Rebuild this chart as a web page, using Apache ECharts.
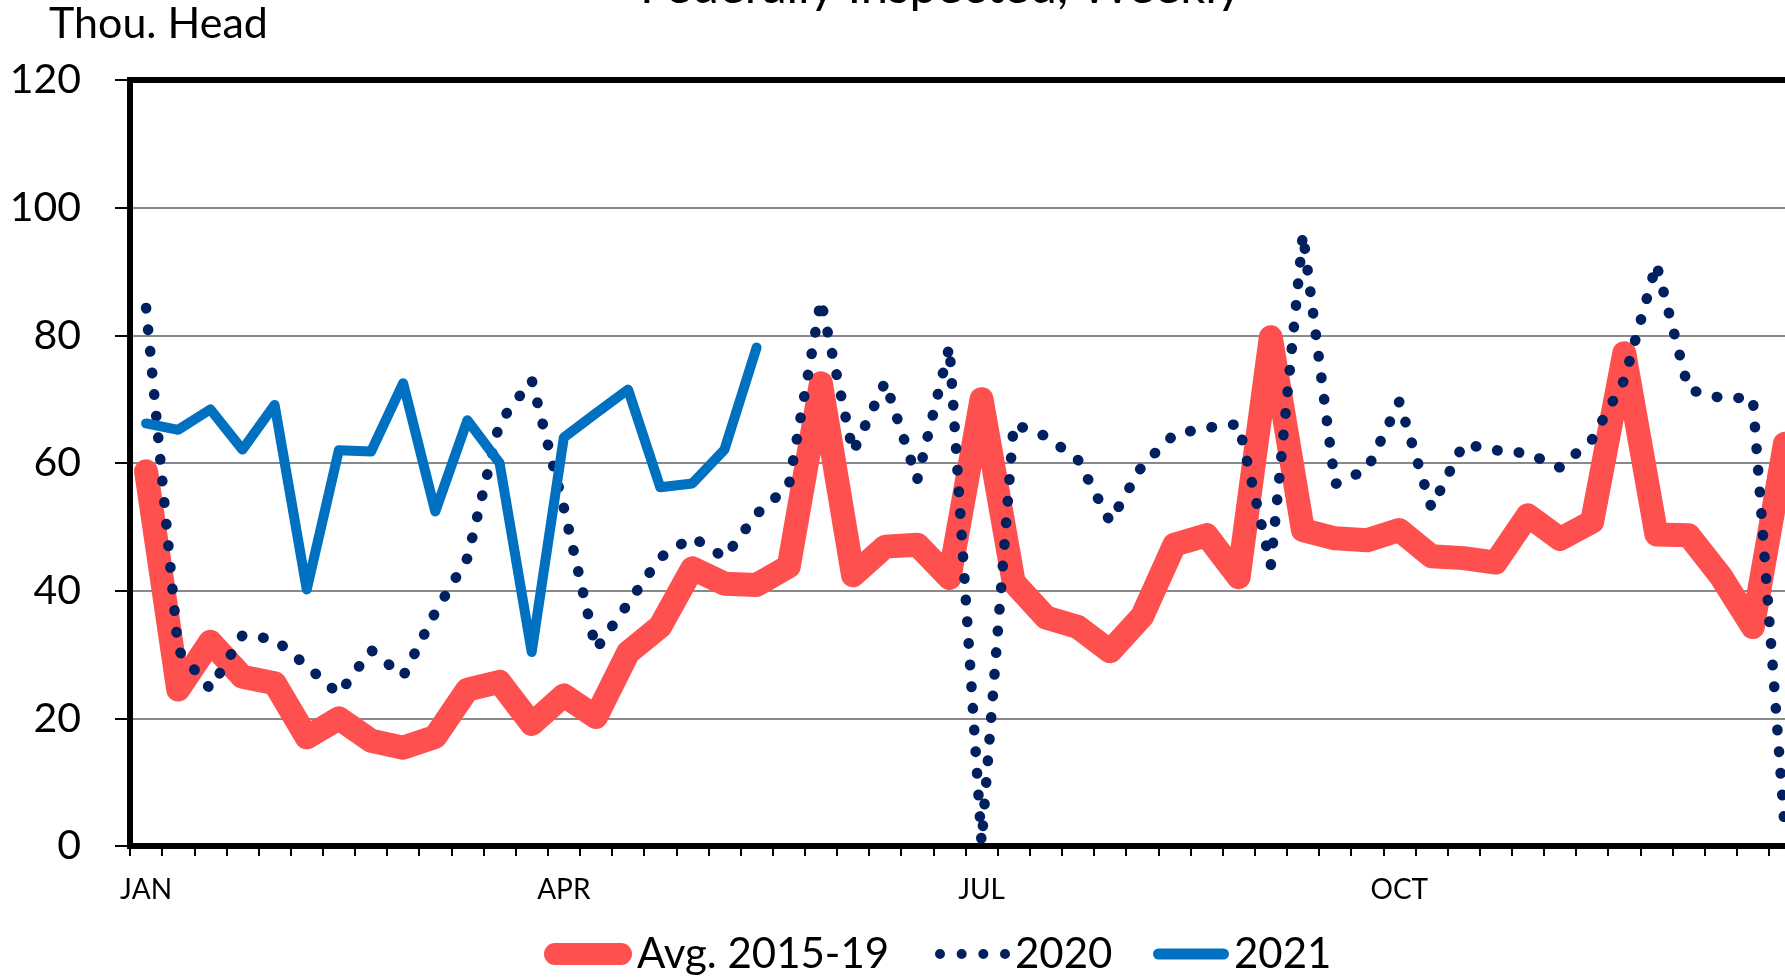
<!DOCTYPE html>
<html>
<head>
<meta charset="utf-8">
<script src="https://cdn.jsdelivr.net/npm/echarts@6.0.0/dist/echarts.min.js"></script>
<style>
  html, body { margin: 0; padding: 0; background: #fff; }
  #chart { width: 1785px; height: 978px; }
</style>
</head>
<body>
<div id="chart"></div>
<script>
// ---- data ----
const titleText = 'Federally Inspected, Weekly';
const unitText = 'Thou. Head';
const seriesNames = ['Avg. 2015-19', '2020', '2021'];

const weeks = [1, 2, 3, 4, 5, 6, 7, 8, 9, 10, 11, 12, 13, 14, 15, 16, 17, 18, 19, 20,
  21, 22, 23, 24, 25, 26, 27, 28, 29, 30, 31, 32, 33, 34, 35, 36, 37, 38, 39, 40,
  41, 42, 43, 44, 45, 46, 47, 48, 49, 50, 51, 52];

const monthLabels = ['JAN', 'APR', 'JUL', 'OCT'];
const monthWeeks = [1, 14, 27, 40];

const yTicks = [0, 20, 40, 60, 80, 100, 120];

const avg1519 = [58.7, 24.5, 32, 26.5, 25.5, 17, 20, 16.5, 15.4, 17.1,
  24.5, 25.7, 19.1, 23.6, 20.2, 30.3, 34.4, 43.5, 41.1, 40.9,
  43.8, 72.5, 42.4, 46.9, 47.2, 42, 70, 41.3, 35.8, 34.3,
  30.5, 36, 47.2, 48.7, 42.1, 79.7, 49.5, 48.2, 47.9, 49.5,
  45.4, 45.1, 44.4, 51.8, 48.1, 50.8, 77.2, 48.8, 48.7, 42.3,
  34.3, 63];

const y2020 = [84.3, 30.7, 24.6, 33, 32.4, 28.2, 23.8, 30.7, 26.6, 36.6,
  45.1, 66.3, 73, 53, 30.8, 38, 45.2, 48.4, 45.2, 52,
  56.4, 85.5, 61.7, 72.7, 57.4, 78.3, 0.5, 66.1, 64.2, 60.5,
  50.8, 59.6, 64.5, 65.5, 66.1, 43.9, 95.9, 56.7, 59, 69.6,
  53, 63, 62, 61.5, 59.3, 63.7, 73, 91.2, 71.5, 70.2,
  70.2, 2.3];

const y2021 = [66.2, 65.2, 68.4, 62.1, 69.1, 40.2, 62, 61.8, 72.5, 52.4,
  66.7, 60, 30.4, 64, 67.8, 71.5, 56.2, 56.8, 62.1, 78.1];

// ---- styling ----
const RED = '#FF5050';
const NAVY = '#002060';
const BLUE = '#0070C0';
const FONT = 'Lato';

const capsule = (w, h) => {
  const r = h / 2;
  return 'path://M' + r + ',0H' + (w - r) + 'A' + r + ',' + r + ',0,0,1,' + (w - r) + ',' + h +
    'H' + r + 'A' + r + ',' + r + ',0,0,1,' + r + ',0Z';
};
const dotsIcon = (() => {
  const r = 5, step = 21.67;
  let p = 'path://';
  for (let i = 0; i < 4; i++) {
    const cx = r + i * step;
    p += 'M' + (cx - r) + ',' + r + 'A' + r + ',' + r + ',0,1,0,' + (cx + r) + ',' + r +
      'A' + r + ',' + r + ',0,1,0,' + (cx - r) + ',' + r + 'Z';
  }
  return p;
})();

const legendText = { fontFamily: FONT, fontSize: 42, color: '#000' };

const chart = echarts.init(document.getElementById('chart'), null, { renderer: 'canvas' });

const option = {
  animation: false,
  backgroundColor: '#ffffff',
  title: [
    {
      text: titleText, left: 640, top: -37, padding: 0,
      textStyle: { fontFamily: FONT, fontSize: 49, fontWeight: 'normal', color: '#000' }
    },
    {
      text: unitText, left: 49, top: 3, padding: 0,
      textStyle: { fontFamily: FONT, fontSize: 43, fontWeight: 'normal', color: '#000' }
    }
  ],
  grid: {
    left: 130, top: 80, width: 1671, bottom: 132,
    outerBoundsMode: 'none', containLabel: false,
    show: true, borderColor: '#000', borderWidth: 6, backgroundColor: 'transparent'
  },
  xAxis: {
    type: 'category',
    data: weeks,
    boundaryGap: true,
    axisLine: { show: true, lineStyle: { color: '#000', width: 6 } },
    axisTick: { show: true, interval: 0, length: 10, lineStyle: { color: '#000', width: 2 } },
    axisLabel: {
      interval: 0, margin: 30, fontFamily: FONT, fontSize: 28, color: '#000',
      formatter: (v) => {
        const k = monthWeeks.indexOf(Number(v));
        return k >= 0 ? monthLabels[k] : '';
      }
    },
    splitLine: { show: false }
  },
  yAxis: {
    type: 'value',
    min: yTicks[0], max: yTicks[yTicks.length - 1], interval: yTicks[1] - yTicks[0],
    axisLine: { show: true, lineStyle: { color: '#000', width: 6 } },
    axisTick: { show: true, length: 15, lineStyle: { color: '#000', width: 2 } },
    axisLabel: { margin: 49, fontFamily: FONT, fontSize: 41, color: '#000' },
    splitLine: {
      show: true, showMinLine: false, showMaxLine: false,
      lineStyle: { color: '#898989', width: 2 }
    }
  },
  legend: [
    {
      data: [{ name: seriesNames[0], icon: capsule(88, 22) }],
      left: 544, top: 933, padding: 0, itemWidth: 88, itemHeight: 22,
      selectedMode: false, textStyle: legendText, itemStyle: { borderWidth: 0 }
    },
    {
      data: [{ name: seriesNames[1], icon: dotsIcon }],
      left: 935, top: 933, padding: 0, itemWidth: 75, itemHeight: 10,
      selectedMode: false, textStyle: legendText, itemStyle: { borderWidth: 0 }
    },
    {
      data: [{ name: seriesNames[2], icon: capsule(76, 11) }],
      left: 1153, top: 933, padding: 0, itemWidth: 76, itemHeight: 11,
      selectedMode: false, textStyle: legendText, itemStyle: { borderWidth: 0 }
    }
  ],
  series: [
    {
      name: seriesNames[0], type: 'line', data: avg1519, symbol: 'none',
      color: RED, itemStyle: { color: RED },
      lineStyle: { color: RED, width: 24, cap: 'round', join: 'round' }, z: 2
    },
    {
      name: seriesNames[1], type: 'line', data: y2020, symbol: 'none',
      color: NAVY, itemStyle: { color: NAVY },
      lineStyle: { color: NAVY, width: 10.5, type: [0.5, 21.2], cap: 'round', join: 'round' }, z: 3
    },
    {
      name: seriesNames[2], type: 'line', data: y2021, symbol: 'none',
      color: BLUE, itemStyle: { color: BLUE },
      lineStyle: { color: BLUE, width: 10, cap: 'round', join: 'round' }, z: 4
    }
  ]
};

chart.setOption(option);
</script>
</body>
</html>
